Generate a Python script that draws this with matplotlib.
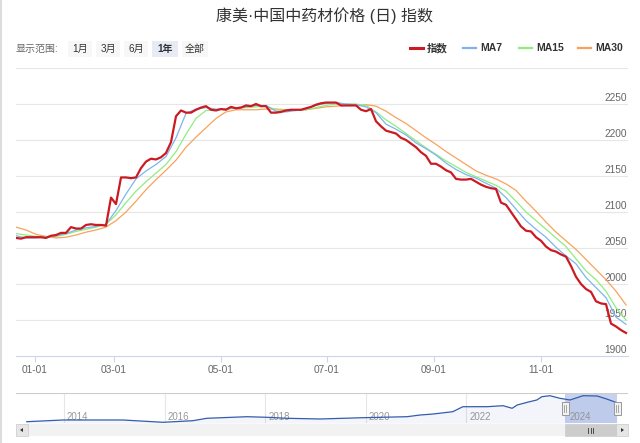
import numpy as np
import matplotlib
matplotlib.use('Agg')
import matplotlib.pyplot as plt
from matplotlib.patches import Rectangle, Polygon
from matplotlib.lines import Line2D
import matplotlib.transforms as mtransforms

plt.rcParams['font.family'] = ['Liberation Sans', 'Noto Sans CJK SC', 'DejaVu Sans']

# ---------------- data ----------------
title = "康美·中国中药材价格 (日) 指数"
range_label = "显示范围:"
range_buttons = ["1月", "3月", "6月", "1年", "全部"]
selected_button = "1年"
legend_labels = ["指数", "MA7", "MA15", "MA30"]

# index, one value every ~2 trading days
index_vals = [2064, 2063, 2065, 2065, 2065, 2065, 2064, 2067, 2068, 2071,
              2071, 2079, 2077, 2077, 2082, 2083, 2082, 2082, 2081, 2120,
              2111, 2148, 2148, 2147, 2148, 2161, 2170, 2174, 2173, 2176,
              2182, 2197, 2233, 2241, 2238, 2238, 2242, 2245, 2247, 2242,
              2241, 2243, 2242, 2246, 2244, 2245, 2248, 2247, 2250, 2247,
              2247, 2238, 2238, 2239, 2241, 2242, 2242, 2242, 2244, 2246,
              2249, 2251, 2252, 2252, 2252, 2248, 2248, 2248, 2248, 2242,
              2240, 2243, 2226, 2219, 2213, 2211, 2209, 2203, 2200, 2195,
              2190, 2183, 2178, 2167, 2167, 2163, 2158, 2155, 2146, 2145,
              2145, 2146, 2142, 2138, 2135, 2133, 2132, 2113, 2110, 2100,
              2090, 2080, 2074, 2073, 2065, 2060, 2052, 2047, 2045, 2041,
              2038, 2025, 2010, 2000, 1993, 1989, 1976, 1973, 1972, 1945,
              1941, 1936, 1932]

# moving averages, one value every second index sample
ma7 = [2067, 2064, 2064, 2065, 2067, 2070, 2075, 2078, 2080, 2083,
       2102, 2125, 2146, 2157, 2166, 2177, 2203, 2237, 2243, 2245,
       2243, 2243, 2245, 2246, 2248, 2248, 2240, 2239, 2241, 2243,
       2248, 2251, 2252, 2250, 2249, 2246, 2238, 2222, 2215, 2207,
       2196, 2188, 2179, 2168, 2159, 2152, 2147, 2140, 2133, 2120,
       2104, 2088, 2076, 2065, 2051, 2039, 2028, 2009, 1995, 1981,
       1954, 1944]
ma15 = [2070, 2068, 2066, 2066, 2066, 2069, 2073, 2076, 2079, 2083,
        2096, 2113, 2129, 2142, 2154, 2166, 2184, 2208, 2230, 2241,
        2242, 2243, 2244, 2245, 2246, 2247, 2242, 2241, 2242, 2242,
        2245, 2248, 2250, 2250, 2250, 2248, 2239, 2228, 2219, 2209,
        2199, 2189, 2180, 2171, 2163, 2155, 2149, 2143, 2137, 2129,
        2115, 2100, 2088, 2076, 2064, 2052, 2035, 2018, 2006, 1990,
        1967, 1950]
ma30 = [2079, 2075, 2069, 2066, 2064, 2065, 2068, 2072, 2075, 2079,
        2088, 2100, 2115, 2131, 2145, 2158, 2172, 2190, 2204, 2217,
        2230, 2239, 2242, 2242, 2242, 2243, 2243, 2242, 2241, 2242,
        2244, 2246, 2247, 2248, 2248, 2249, 2247, 2240, 2231, 2223,
        2213, 2203, 2194, 2184, 2175, 2166, 2157, 2151, 2146, 2139,
        2130, 2115, 2101, 2086, 2072, 2060, 2048, 2034, 2020, 2006,
        1990, 1971]

x_tick_pos = [3.8, 19.6, 41.0, 62.2, 83.6, 105.0]
x_tick_labels = ["01-01", "03-01", "05-01", "07-01", "09-01", "11-01"]
y_ticks = [1900, 1950, 2000, 2050, 2100, 2150, 2200, 2250]
y_grid = [1950, 2000, 2050, 2100, 2150, 2200, 2250, 2300]

# navigator (whole history)
nav_year = [2013.26, 2013.98, 2015.17, 2015.97, 2016.56, 2016.84, 2017.64,
            2018.04, 2018.43, 2019.09, 2019.94, 2020.82, 2021.08, 2021.34,
            2021.73, 2021.93, 2022.41, 2022.73, 2022.91, 2023.01, 2023.21,
            2023.40, 2023.50, 2023.66, 2023.86, 2024.06, 2024.32, 2024.60,
            2024.79, 2024.99]
nav_vals = [1059, 1137, 1137, 1031, 1104, 1215, 1288, 1260, 1215, 1183,
            1242, 1288, 1366, 1412, 1518, 1747, 1747, 1793, 1674, 1825,
            1949, 2055, 2206, 2252, 2133, 2055, 2252, 2238, 2100, 1931]
nav_years_lab = [2014, 2016, 2018, 2020, 2022, 2024]
nav_sel = (2023.97, 2024.99)

# ---------------- styling ----------------
RED = '#cc1a22'
BLUE = '#7cb5ec'
GREEN = '#90ed7d'
ORANGE = '#f7a35c'
GRID = '#e6e6e6'
AXIS = '#ccd6eb'
LAB = '#666666'

W, H = 640, 443
fig = plt.figure(figsize=(W / 100, H / 100), dpi=100)
fig.patch.set_facecolor('white')


def fx(x):
    return x / W


def fy(y):
    return 1 - y / H


# ---------------- main chart ----------------
ax = fig.add_axes([fx(16), fy(356), (628 - 16) / W, (356 - 68) / H])
ax.set_xlim(0, 122.4)
ax.set_ylim(1900, 2300)
for s in ['top', 'left', 'right']:
    ax.spines[s].set_visible(False)
ax.spines['bottom'].set_color(AXIS)
ax.spines['bottom'].set_linewidth(0.8)
ax.set_yticks([])
for v in y_grid:
    ax.axhline(v, color=GRID, lw=0.8, zorder=0)

ytr = mtransforms.blended_transform_factory(ax.transAxes, ax.transData)
for v in y_ticks:
    ax.annotate(str(v), xy=(1.0, v), xycoords=ytr, xytext=(-1, 1),
                textcoords='offset pixels', ha='right', va='bottom',
                fontsize=7.3, color=LAB, zorder=1)

ax.set_xticks(x_tick_pos)
ax.set_xticklabels(x_tick_labels)
ax.tick_params(axis='x', length=4.5, width=0.8, color=AXIS, labelcolor=LAB,
               labelsize=7.3, pad=2)

idx = np.arange(len(index_vals))
ma_idx = np.arange(len(ma7)) * 2
ax.plot(ma_idx, ma30, color=ORANGE, lw=0.9, zorder=3)
ax.plot(ma_idx, ma15, color=GREEN, lw=0.9, zorder=3)
ax.plot(ma_idx, ma7, color=BLUE, lw=0.9, zorder=4)
ax.plot(idx, index_vals, color=RED, lw=1.6, zorder=5)

# ---------------- header ----------------
fig.text(fx(324), fy(16), title, ha='center', va='center', fontsize=11.5,
         color='#333333')
fig.text(fx(16), fy(49), range_label, ha='left', va='center', fontsize=7.2,
         color=LAB)
boxes = [(68, 92), (96, 120), (124, 148), (152, 178), (182, 208)]
for lab, (x0, x1) in zip(range_buttons, boxes):
    sel = lab == selected_button
    fig.add_artist(Rectangle((fx(x0), fy(57)), (x1 - x0) / W, 16 / H,
                             transform=fig.transFigure,
                             facecolor='#e6ebf5' if sel else '#f7f7f7',
                             edgecolor='none'))
    fig.text(fx((x0 + x1) / 2), fy(49), lab, ha='center', va='center',
             fontsize=7.2, color='#333333',
             fontweight='bold' if sel else 'normal')

leg = [(RED, 410, 2.2), (BLUE, 463, 1.6), (GREEN, 519, 1.6), (ORANGE, 578, 1.6)]
for (c, x0, lw), lab in zip(leg, legend_labels):
    fig.add_artist(Line2D([fx(x0), fx(x0 + 13)], [fy(48), fy(48)],
                          transform=fig.transFigure, color=c, lw=lw))
    fig.text(fx(x0 + 17), fy(48), lab, ha='left', va='center', fontsize=7.5,
             fontweight='bold', color='#333333')

# left page border
fig.add_artist(Line2D([fx(1), fx(1)], [0, 1], transform=fig.transFigure,
                      color='#dddddd', lw=1.5))

# ---------------- navigator ----------------
nav = fig.add_axes([fx(16), fy(423), (628 - 16) / W, (423 - 393) / H])
nav.set_xlim(2013.046, 2025.213)
nav.set_ylim(999, 2376)
for s in nav.spines.values():
    s.set_visible(False)
nav.set_xticks([])
nav.set_yticks([])
nav.axhline(2376, color='#cccccc', lw=0.8)
for yr in nav_years_lab:
    nav.axvline(yr, color=GRID, lw=0.8, zorder=0)
    nav.annotate(str(yr), xy=(yr, 0), xycoords=('data', 'axes fraction'),
                 xytext=(3, 1), textcoords='offset pixels', ha='left',
                 va='bottom', fontsize=7, color='#999999', zorder=1)
nav.axvspan(nav_sel[0], nav_sel[1], color='#c8d2ee', zorder=0.5, lw=0)
nav.fill_between(nav_year, nav_vals, 999, color='#335cad', alpha=0.06,
                 lw=0, zorder=1)
nav.plot(nav_year, nav_vals, color='#335cad', lw=0.9, zorder=2)

# handles
for hx in (565, 617):
    fig.add_artist(Rectangle((fx(hx - 3.5), fy(415)), 7 / W, 13 / H,
                             transform=fig.transFigure, facecolor='#f2f2f2',
                             edgecolor='#999999', lw=0.7, zorder=5))
    for dx in (-1, 1):
        fig.add_artist(Line2D([fx(hx + dx), fx(hx + dx)], [fy(405), fy(412)],
                              transform=fig.transFigure, color='#999999',
                              lw=0.6, zorder=6))

# scrollbar
fig.add_artist(Rectangle((fx(16), fy(436)), 612 / W, 12 / H,
                         transform=fig.transFigure, facecolor='#f2f2f2',
                         edgecolor='none'))
for bx0 in (16, 616):
    fig.add_artist(Rectangle((fx(bx0), fy(436)), 12 / W, 12 / H,
                             transform=fig.transFigure, facecolor='#e6e6e6',
                             edgecolor='#cccccc', lw=0.5))
fig.add_artist(Polygon([[fx(20), fy(430)], [fx(23), fy(428)], [fx(23), fy(432)]],
                       closed=True, transform=fig.transFigure,
                       facecolor='#333333', edgecolor='none'))
fig.add_artist(Polygon([[fx(624), fy(430)], [fx(621), fy(428)], [fx(621), fy(432)]],
                       closed=True, transform=fig.transFigure,
                       facecolor='#333333', edgecolor='none'))
fig.add_artist(Rectangle((fx(565), fy(436)), 51 / W, 12 / H,
                         transform=fig.transFigure, facecolor='#cccccc',
                         edgecolor='#cccccc', lw=0.5))
for gx in (588, 590.5, 593):
    fig.add_artist(Line2D([fx(gx), fx(gx)], [fy(427.5), fy(432.5)],
                          transform=fig.transFigure, color='#333333', lw=0.6))

fig.savefig('out.png', dpi=100)
